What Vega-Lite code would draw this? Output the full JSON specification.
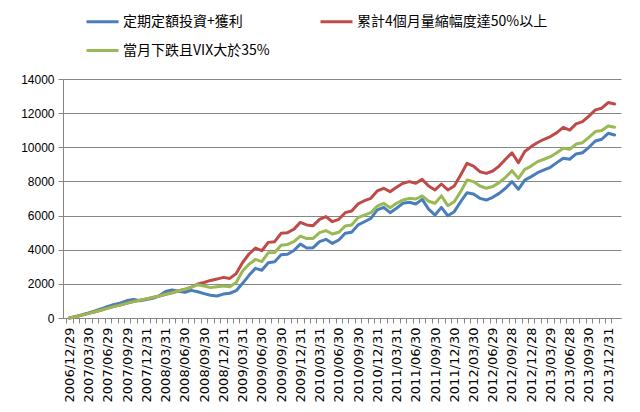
{
  "$schema": "https://vega.github.io/schema/vega-lite/v6.json",
  "width": 558,
  "height": 239,
  "autosize": {"type": "none"},
  "padding": {"left": 63, "top": 79, "right": 19, "bottom": 94},
  "background": "white",
  "config": {
    "view": {"stroke": null},
    "font": "Liberation Sans"
  },
  "data": {
    "values": [
      {"date": "2006/12/29", "定期定額投資+獲利": 0, "累計4個月量縮幅度達50%以上": 0, "當月下跌且VIX大於35%": 0},
      {"date": "2007/01/31", "定期定額投資+獲利": 90, "累計4個月量縮幅度達50%以上": 80, "當月下跌且VIX大於35%": 80},
      {"date": "2007/02/27", "定期定額投資+獲利": 190, "累計4個月量縮幅度達50%以上": 170, "當月下跌且VIX大於35%": 170},
      {"date": "2007/03/30", "定期定額投資+獲利": 300, "累計4個月量縮幅度達50%以上": 270, "當月下跌且VIX大於35%": 270},
      {"date": "2007/04/30", "定期定額投資+獲利": 420, "累計4個月量縮幅度達50%以上": 370, "當月下跌且VIX大於35%": 370},
      {"date": "2007/05/31", "定期定額投資+獲利": 540, "累計4個月量縮幅度達50%以上": 470, "當月下跌且VIX大於35%": 470},
      {"date": "2007/06/29", "定期定額投資+獲利": 680, "累計4個月量縮幅度達50%以上": 580, "當月下跌且VIX大於35%": 580},
      {"date": "2007/07/31", "定期定額投資+獲利": 800, "累計4個月量縮幅度達50%以上": 680, "當月下跌且VIX大於35%": 680},
      {"date": "2007/08/31", "定期定額投資+獲利": 880, "累計4個月量縮幅度達50%以上": 770, "當月下跌且VIX大於35%": 770},
      {"date": "2007/09/29", "定期定額投資+獲利": 1020, "累計4個月量縮幅度達50%以上": 870, "當月下跌且VIX大於35%": 870},
      {"date": "2007/10/31", "定期定額投資+獲利": 1080, "累計4個月量縮幅度達50%以上": 960, "當月下跌且VIX大於35%": 960},
      {"date": "2007/11/30", "定期定額投資+獲利": 1010, "累計4個月量縮幅度達50%以上": 1040, "當月下跌且VIX大於35%": 1040},
      {"date": "2007/12/31", "定期定額投資+獲利": 1080, "累計4個月量縮幅度達50%以上": 1120, "當月下跌且VIX大於35%": 1120},
      {"date": "2008/01/31", "定期定額投資+獲利": 1150, "累計4個月量縮幅度達50%以上": 1200, "當月下跌且VIX大於35%": 1200},
      {"date": "2008/02/29", "定期定額投資+獲利": 1300, "累計4個月量縮幅度達50%以上": 1290, "當月下跌且VIX大於35%": 1290},
      {"date": "2008/03/31", "定期定額投資+獲利": 1550, "累計4個月量縮幅度達50%以上": 1390, "當月下跌且VIX大於35%": 1390},
      {"date": "2008/04/30", "定期定額投資+獲利": 1640, "累計4個月量縮幅度達50%以上": 1480, "當月下跌且VIX大於35%": 1480},
      {"date": "2008/05/30", "定期定額投資+獲利": 1570, "累計4個月量縮幅度達50%以上": 1580, "當月下跌且VIX大於35%": 1580},
      {"date": "2008/06/30", "定期定額投資+獲利": 1500, "累計4個月量縮幅度達50%以上": 1680, "當月下跌且VIX大於35%": 1680},
      {"date": "2008/07/31", "定期定額投資+獲利": 1620, "累計4個月量縮幅度達50%以上": 1800, "當月下跌且VIX大於35%": 1800},
      {"date": "2008/08/29", "定期定額投資+獲利": 1540, "累計4個月量縮幅度達50%以上": 1990, "當月下跌且VIX大於35%": 1950},
      {"date": "2008/09/30", "定期定額投資+獲利": 1430, "累計4個月量縮幅度達50%以上": 2080, "當月下跌且VIX大於35%": 1870},
      {"date": "2008/10/31", "定期定額投資+獲利": 1330, "累計4個月量縮幅度達50%以上": 2200, "當月下跌且VIX大於35%": 1780},
      {"date": "2008/11/28", "定期定額投資+獲利": 1290, "累計4個月量縮幅度達50%以上": 2280, "當月下跌且VIX大於35%": 1830},
      {"date": "2008/12/31", "定期定額投資+獲利": 1400, "累計4個月量縮幅度達50%以上": 2380, "當月下跌且VIX大於35%": 1880},
      {"date": "2009/01/21", "定期定額投資+獲利": 1450, "累計4個月量縮幅度達50%以上": 2320, "當月下跌且VIX大於35%": 1830},
      {"date": "2009/02/27", "定期定額投資+獲利": 1600, "累計4個月量縮幅度達50%以上": 2600, "當月下跌且VIX大於35%": 2080},
      {"date": "2009/03/31", "定期定額投資+獲利": 2030, "累計4個月量縮幅度達50%以上": 3250, "當月下跌且VIX大於35%": 2750},
      {"date": "2009/04/30", "定期定額投資+獲利": 2500, "累計4個月量縮幅度達50%以上": 3750, "當月下跌且VIX大於35%": 3150},
      {"date": "2009/05/27", "定期定額投資+獲利": 2910, "累計4個月量縮幅度達50%以上": 4100, "當月下跌且VIX大於35%": 3430},
      {"date": "2009/06/30", "定期定額投資+獲利": 2800, "累計4個月量縮幅度達50%以上": 3940, "當月下跌且VIX大於35%": 3300},
      {"date": "2009/07/31", "定期定額投資+獲利": 3240, "累計4個月量縮幅度達50%以上": 4430, "當月下跌且VIX大於35%": 3820},
      {"date": "2009/08/31", "定期定額投資+獲利": 3300, "累計4個月量縮幅度達50%以上": 4470, "當月下跌且VIX大於35%": 3840},
      {"date": "2009/09/30", "定期定額投資+獲利": 3700, "累計4個月量縮幅度達50%以上": 4960, "當月下跌且VIX大於35%": 4260},
      {"date": "2009/10/30", "定期定額投資+獲利": 3730, "累計4個月量縮幅度達50%以上": 5000, "當月下跌且VIX大於35%": 4310},
      {"date": "2009/11/30", "定期定額投資+獲利": 3950, "累計4個月量縮幅度達50%以上": 5200, "當月下跌且VIX大於35%": 4470},
      {"date": "2009/12/31", "定期定額投資+獲利": 4330, "累計4個月量縮幅度達50%以上": 5600, "當月下跌且VIX大於35%": 4800},
      {"date": "2010/01/29", "定期定額投資+獲利": 4100, "累計4個月量縮幅度達50%以上": 5450, "當月下跌且VIX大於35%": 4650},
      {"date": "2010/02/26", "定期定額投資+獲利": 4120, "累計4個月量縮幅度達50%以上": 5410, "當月下跌且VIX大於35%": 4660},
      {"date": "2010/03/31", "定期定額投資+獲利": 4470, "累計4個月量縮幅度達50%以上": 5780, "當月下跌且VIX大於35%": 5000},
      {"date": "2010/04/30", "定期定額投資+獲利": 4610, "累計4個月量縮幅度達50%以上": 5940, "當月下跌且VIX大於35%": 5120},
      {"date": "2010/05/31", "定期定額投資+獲利": 4370, "累計4個月量縮幅度達50%以上": 5640, "當月下跌且VIX大於35%": 4920},
      {"date": "2010/06/30", "定期定額投資+獲利": 4570, "累計4個月量縮幅度達50%以上": 5780, "當月下跌且VIX大於35%": 5020},
      {"date": "2010/07/30", "定期定額投資+獲利": 4960, "累計4個月量縮幅度達50%以上": 6170, "當月下跌且VIX大於35%": 5390},
      {"date": "2010/08/31", "定期定額投資+獲利": 5020, "累計4個月量縮幅度達50%以上": 6270, "當月下跌且VIX大於35%": 5450},
      {"date": "2010/09/30", "定期定額投資+獲利": 5450, "累計4個月量縮幅度達50%以上": 6680, "當月下跌且VIX大於35%": 5880},
      {"date": "2010/10/29", "定期定額投資+獲利": 5640, "累計4個月量縮幅度達50%以上": 6870, "當月下跌且VIX大於35%": 6030},
      {"date": "2010/11/30", "定期定額投資+獲利": 5840, "累計4個月量縮幅度達50%以上": 7010, "當月下跌且VIX大於35%": 6170},
      {"date": "2010/12/31", "定期定額投資+獲利": 6330, "累計4個月量縮幅度達50%以上": 7440, "當月下跌且VIX大於35%": 6560},
      {"date": "2011/01/28", "定期定額投資+獲利": 6480, "累計4個月量縮幅度達50%以上": 7600, "當月下跌且VIX大於35%": 6720},
      {"date": "2011/02/25", "定期定額投資+獲利": 6170, "累計4個月量縮幅度達50%以上": 7400, "當月下跌且VIX大於35%": 6460},
      {"date": "2011/03/31", "定期定額投資+獲利": 6430, "累計4個月量縮幅度達50%以上": 7660, "當月下跌且VIX大於35%": 6720},
      {"date": "2011/04/29", "定期定額投資+獲利": 6720, "累計4個月量縮幅度達50%以上": 7890, "當月下跌且VIX大於35%": 6910},
      {"date": "2011/05/31", "定期定額投資+獲利": 6780, "累計4個月量縮幅度達50%以上": 7990, "當月下跌且VIX大於35%": 7010},
      {"date": "2011/06/30", "定期定額投資+獲利": 6680, "累計4個月量縮幅度達50%以上": 7890, "當月下跌且VIX大於35%": 6970},
      {"date": "2011/07/29", "定期定額投資+獲利": 6950, "累計4個月量縮幅度達50%以上": 8120, "當月下跌且VIX大於35%": 7150},
      {"date": "2011/08/31", "定期定額投資+獲利": 6380, "累計4個月量縮幅度達50%以上": 7730, "當月下跌且VIX大於35%": 6840},
      {"date": "2011/09/30", "定期定額投資+獲利": 6030, "累計4個月量縮幅度達50%以上": 7500, "當月下跌且VIX大於35%": 6720},
      {"date": "2011/10/31", "定期定額投資+獲利": 6480, "累計4個月量縮幅度達50%以上": 7850, "當月下跌且VIX大於35%": 7150},
      {"date": "2011/11/30", "定期定額投資+獲利": 5990, "累計4個月量縮幅度達50%以上": 7500, "當月下跌且VIX大於35%": 6580},
      {"date": "2011/12/30", "定期定額投資+獲利": 6230, "累計4個月量縮幅度達50%以上": 7730, "當月下跌且VIX大於35%": 6810},
      {"date": "2012/01/31", "定期定額投資+獲利": 6810, "累計4個月量縮幅度達50%以上": 8380, "當月下跌且VIX大於35%": 7400},
      {"date": "2012/02/29", "定期定額投資+獲利": 7340, "累計4個月量縮幅度達50%以上": 9060, "當月下跌且VIX大於35%": 8080},
      {"date": "2012/03/30", "定期定額投資+獲利": 7260, "累計4個月量縮幅度達50%以上": 8900, "當月下跌且VIX大於35%": 7990},
      {"date": "2012/04/30", "定期定額投資+獲利": 7010, "累計4個月量縮幅度達50%以上": 8570, "當月下跌且VIX大於35%": 7730},
      {"date": "2012/05/31", "定期定額投資+獲利": 6910, "累計4個月量縮幅度達50%以上": 8470, "當月下跌且VIX大於35%": 7600},
      {"date": "2012/06/29", "定期定額投資+獲利": 7070, "累計4個月量縮幅度達50%以上": 8610, "當月下跌且VIX大於35%": 7700},
      {"date": "2012/07/31", "定期定額投資+獲利": 7300, "累計4個月量縮幅度達50%以上": 8900, "當月下跌且VIX大於35%": 7930},
      {"date": "2012/08/31", "定期定額投資+獲利": 7600, "累計4個月量縮幅度達50%以上": 9300, "當月下跌且VIX大於35%": 8240},
      {"date": "2012/09/28", "定期定額投資+獲利": 7990, "累計4個月量縮幅度達50%以上": 9680, "當月下跌且VIX大於35%": 8630},
      {"date": "2012/10/31", "定期定額投資+獲利": 7540, "累計4個月量縮幅度達50%以上": 9100, "當月下跌且VIX大於35%": 8180},
      {"date": "2012/11/30", "定期定額投資+獲利": 8080, "累計4個月量縮幅度達50%以上": 9750, "當月下跌且VIX大於35%": 8710},
      {"date": "2012/12/28", "定期定額投資+獲利": 8280, "累計4個月量縮幅度達50%以上": 10040, "當月下跌且VIX大於35%": 8900},
      {"date": "2013/01/31", "定期定額投資+獲利": 8510, "累計4個月量縮幅度達50%以上": 10280, "當月下跌且VIX大於35%": 9160},
      {"date": "2013/02/27", "定期定額投資+獲利": 8670, "累計4個月量縮幅度達50%以上": 10470, "當月下跌且VIX大於35%": 9300},
      {"date": "2013/03/29", "定期定額投資+獲利": 8830, "累計4個月量縮幅度達50%以上": 10630, "當月下跌且VIX大於35%": 9450},
      {"date": "2013/04/30", "定期定額投資+獲利": 9100, "累計4個月量縮幅度達50%以上": 10860, "當月下跌且VIX大於35%": 9680},
      {"date": "2013/05/31", "定期定額投資+獲利": 9360, "累計4個月量縮幅度達50%以上": 11170, "當月下跌且VIX大於35%": 9940},
      {"date": "2013/06/28", "定期定額投資+獲利": 9300, "累計4個月量縮幅度達50%以上": 11010, "當月下跌且VIX大於35%": 9880},
      {"date": "2013/07/31", "定期定額投資+獲利": 9610, "累計4個月量縮幅度達50%以上": 11370, "當月下跌且VIX大於35%": 10190},
      {"date": "2013/08/30", "定期定額投資+獲利": 9680, "累計4個月量縮幅度達50%以上": 11500, "當月下跌且VIX大於35%": 10270},
      {"date": "2013/09/30", "定期定額投資+獲利": 10000, "累計4個月量縮幅度達50%以上": 11830, "當月下跌且VIX大於35%": 10580},
      {"date": "2013/10/31", "定期定額投資+獲利": 10370, "累計4個月量縮幅度達50%以上": 12190, "當月下跌且VIX大於35%": 10920},
      {"date": "2013/11/29", "定期定額投資+獲利": 10470, "累計4個月量縮幅度達50%以上": 12290, "當月下跌且VIX大於35%": 10980},
      {"date": "2013/12/31", "定期定額投資+獲利": 10820, "累計4個月量縮幅度達50%以上": 12620, "當月下跌且VIX大於35%": 11250},
      {"date": "2014/01/27", "定期定額投資+獲利": 10720, "累計4個月量縮幅度達50%以上": 12540, "當月下跌且VIX大於35%": 11170}
    ]
  },
  "transform": [
    {"fold": ["定期定額投資+獲利", "累計4個月量縮幅度達50%以上", "當月下跌且VIX大於35%"], "as": ["series", "value"]}
  ],
  "mark": {"type": "line", "strokeWidth": 3, "strokeJoin": "round", "strokeCap": "round"},
  "encoding": {
    "x": {
      "field": "date",
      "type": "ordinal",
      "sort": null,
      "scale": {"type": "point", "padding": 1.2},
      "axis": {
        "title": null,
        "grid": false,
        "domainColor": "#868686",
        "tickColor": "#868686",
        "tickSize": 5,
        "tickOffset": -3.2,
        "labelOffset": 3.2,
        "labelAngle": 270,
        "labelFont": "DejaVu Sans",
        "labelFontSize": 13,
        "labelColor": "#000000",
        "labelPadding": 4,
        "labelOverlap": false,
        "labelExpr": "indexof(['03','06','09','12'], substring(datum.label, 5, 7)) >= 0 ? datum.label : ''"
      }
    },
    "y": {
      "field": "value",
      "type": "quantitative",
      "scale": {"domain": [0, 14000], "nice": false},
      "axis": {
        "title": null,
        "values": [0, 2000, 4000, 6000, 8000, 10000, 12000, 14000],
        "format": "d",
        "grid": true,
        "gridColor": "#868686",
        "gridWidth": 1,
        "domainColor": "#868686",
        "tickColor": "#868686",
        "tickSize": 5,
        "labelFont": "Liberation Sans",
        "labelFontSize": 12,
        "labelColor": "#000000",
        "labelPadding": 4
      }
    },
    "color": {
      "field": "series",
      "type": "nominal",
      "scale": {
        "domain": ["定期定額投資+獲利", "累計4個月量縮幅度達50%以上", "當月下跌且VIX大於35%"],
        "range": ["#4A7EBB", "#BE4B48", "#98B954"]
      },
      "legend": {
        "title": null,
        "orient": "none",
        "legendX": 22,
        "legendY": -75,
        "direction": "horizontal",
        "columns": 2,
        "columnPadding": 44,
        "rowPadding": 4,
        "symbolType": "stroke",
        "symbolSize": 1024,
        "symbolStrokeWidth": 3,
        "labelFont": "Noto Sans CJK TC",
        "labelFontSize": 14,
        "labelColor": "#000000",
        "labelLimit": 400,
        "labelOffset": 3
      }
    }
  }
}
